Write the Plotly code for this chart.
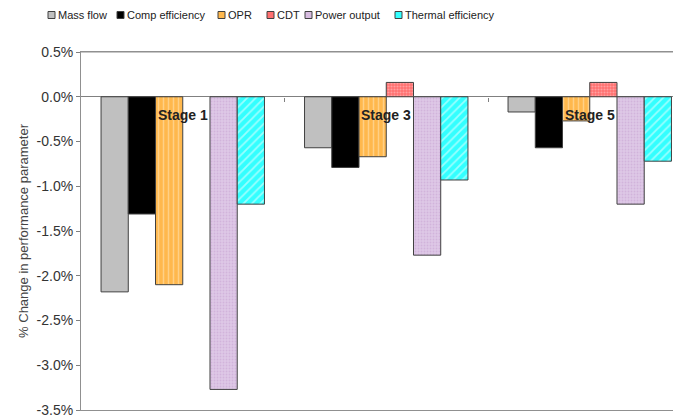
import plotly.graph_objects as go

stages = ["Stage 1", "Stage 3", "Stage 5"]
series_names = ["Mass flow", "Comp efficiency", "OPR", "CDT", "Power output", "Thermal efficiency"]
mass_flow = [-2.18, -0.57, -0.17]
comp_eff = [-1.31, -0.79, -0.57]
opr = [-2.10, -0.67, -0.27]
cdt = [None, 0.16, 0.16]
power_output = [-3.27, -1.77, -1.20]
thermal_eff = [-1.20, -0.93, -0.72]
y_ticks = [0.5, 0.0, -0.5, -1.0, -1.5, -2.0, -2.5, -3.0, -3.5]
y_tick_labels = ["0.5%", "0.0%", "-0.5%", "-1.0%", "-1.5%", "-2.0%", "-2.5%", "-3.0%", "-3.5%"]

values = [mass_flow, comp_eff, opr, cdt, power_output, thermal_eff]
styles = [
    dict(color="#C0C0C0", pattern=dict(shape="")),
    dict(color="#000000", pattern=dict(shape="")),
    dict(color="#FFB84D", pattern=dict(shape="|", fgcolor="#FFE8C0", bgcolor="#FFB84D", size=5, solidity=0.3, fillmode="overlay")),
    dict(color="#FF7070", pattern=dict(shape=".", fgcolor="#FFD0D0", bgcolor="#FF7070", size=3, solidity=0.4, fillmode="overlay")),
    dict(color="#D7BCE0", pattern=dict(shape=".", fgcolor="#C4A0CF", bgcolor="#DEC8E6", size=3, solidity=0.3, fillmode="overlay")),
    dict(color="#33FFFF", pattern=dict(shape="/", fgcolor="#FFFFFF", bgcolor="#33FFFF", size=6, solidity=0.3, fillmode="overlay")),
]

FONT = "Liberation Sans, Arial, sans-serif"
OFF = 8                        # page body margin of the browser
W, H = 681 - OFF, 417 - OFF
ML, MR, MT = 81 - OFF, 0, 52 - OFF
MB = H - (410 - OFF)
PW, PH = W - ML - MR, H - MT - MB
legend_x_px = [48, 117, 218, 267, 305, 395]   # legend layout (window pixels)
legend_y_px = 15

def px_to_paper_x(px):
    return (px - OFF - ML) / PW

def px_to_paper_y(py):
    return (H - MB - (py - OFF)) / PH

x_idx = list(range(len(stages)))

fig = go.Figure()
for name, vals, st in zip(series_names, values, styles):
    fig.add_trace(go.Bar(
        x=x_idx, y=vals, name=name, showlegend=False,
        marker=dict(color=st["color"], pattern=st["pattern"],
                    line=dict(color="#404040", width=1)),
    ))

# tick marks on the zero line between categories
fig.add_trace(go.Scatter(x=[0], y=[0], xaxis="x2", mode="markers",
                         marker=dict(opacity=0), showlegend=False, hoverinfo="skip"))

for i, s in enumerate(stages):
    fig.add_annotation(x=i, y=0, text="<b>%s</b>" % s, showarrow=False,
                       yanchor="top", yshift=-8,
                       font=dict(family=FONT, size=14, color="#222222"))

# compact legend
sq = 7
for name, st, lx in zip(series_names, styles, legend_x_px):
    fig.add_shape(type="rect", xref="paper", yref="paper",
                  x0=px_to_paper_x(lx), x1=px_to_paper_x(lx + sq),
                  y0=px_to_paper_y(legend_y_px + sq / 2), y1=px_to_paper_y(legend_y_px - sq / 2),
                  fillcolor=st["color"], line=dict(color="#404040", width=1))
    fig.add_annotation(xref="paper", yref="paper",
                       x=px_to_paper_x(lx + sq + 1), y=px_to_paper_y(legend_y_px),
                       xanchor="left", yanchor="middle", showarrow=False,
                       text=name, font=dict(family=FONT, size=11, color="#222222"))

# plot-area top border
fig.add_shape(type="line", xref="paper", yref="paper", x0=0, x1=1, y0=1, y1=1,
              line=dict(color="#909090", width=1))

fig.update_layout(
    width=W, height=H,
    margin=dict(l=ML, r=MR, t=MT, b=MB, autoexpand=False),
    paper_bgcolor="white", plot_bgcolor="white",
    barmode="group", bargap=0.197, bargroupgap=0,
    font=dict(family=FONT, size=11, color="#333333"),
    showlegend=False,
    xaxis=dict(range=[-0.5, -0.5 + PW / 203.5], showticklabels=False, ticks="",
               showgrid=False, zeroline=False, automargin=False,
               showline=True, mirror=True, linecolor="#909090", linewidth=1),
    xaxis2=dict(overlaying="x", matches="x", anchor="free", position=0.875,
                tickvals=[0.5, 1.5], ticks="outside", ticklen=4, tickcolor="#808080",
                showticklabels=False, showgrid=False, zeroline=False, showline=False),
    yaxis=dict(range=[-3.5, 0.5], tickvals=y_ticks, ticktext=y_tick_labels,
               ticks="outside", ticklen=4, tickcolor="#808080", automargin=False,
               ticklabeloverflow="allow",
               showgrid=False, zeroline=True, zerolinecolor="#808080", zerolinewidth=1,
               showline=True, linecolor="#909090", linewidth=1,
               tickfont=dict(size=14, color="#333333"),
               title=dict(text="% Change in performance parameter", standoff=5,
                          font=dict(size=13, color="#444444"))),
)

fig.write_html("out.html")
